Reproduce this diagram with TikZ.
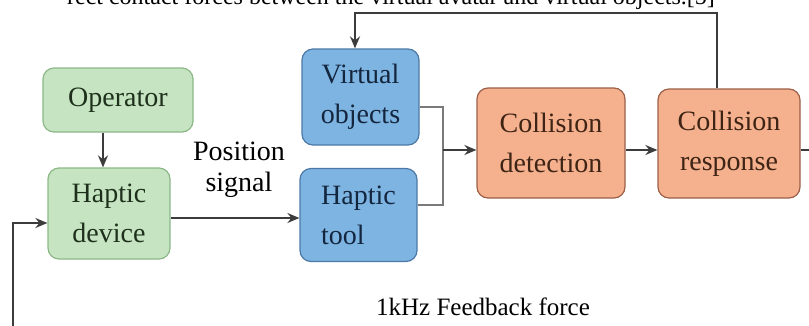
\documentclass[tikz,border=0pt]{standalone}
\usepackage{fontspec}
\setmainfont{Liberation Serif}
\usetikzlibrary{arrows.meta}
\definecolor{gfill}{HTML}{C6E4C1}
\definecolor{gline}{HTML}{8CB888}
\definecolor{gtext}{HTML}{1E301C}
\definecolor{bfill}{HTML}{7EB4E2}
\definecolor{bline}{HTML}{4C79A6}
\definecolor{btext}{HTML}{14263E}
\definecolor{ofill}{HTML}{F5B08E}
\definecolor{oline}{HTML}{9C6048}
\definecolor{otext}{HTML}{3E2414}
\definecolor{wire}{HTML}{3C3C3C}
\definecolor{wiregray}{HTML}{7A7A7A}
\tikzset{
  block/.style={rounded corners=11pt, line width=1.2pt, inner sep=0pt,
    font=\fontsize{28}{40}\selectfont, align=center},
  greenbox/.style={block, fill=gfill, draw=gline, text=gtext},
  bluebox/.style={block, fill=bfill, draw=bline, text=btext},
  orangebox/.style={block, fill=ofill, draw=oline, text=otext},
  wireline/.style={draw=wire, line width=1.8pt},
  arr/.style={wireline, -{Stealth[length=12pt,width=10pt]}},
}
\begin{document}
\begin{tikzpicture}[x=1pt,y=-1pt]
\useasboundingbox (0,0) rectangle (809,325);
\clip (0,0) rectangle (809,325);

% caption line of the surrounding page, cut at the top
\node[anchor=base east, font=\fontsize{24}{28}\selectfont, text=black, inner sep=0pt]
  (cap) at (715,4) {rect contact forces between the virtual avatar and virtual objects.[5]};

% blocks
\node[greenbox, minimum width=150pt, minimum height=64pt] (op) at (118,100) {Operator};
\node[greenbox, minimum width=122pt, minimum height=91pt] (hd) at (109,213.5) {Haptic\\device};
\node[bluebox, minimum width=117pt, minimum height=96pt] (vo) at (360.5,97) {Virtual\\objects};
\node[bluebox, minimum width=117pt, minimum height=93pt, align=left] (ht) at (358.5,215) {Haptic\\tool};
\node[orangebox, minimum width=148pt, minimum height=110pt] (cd) at (551,143) {Collision\\detection};
\node[orangebox, minimum width=142pt, minimum height=109pt] (cr) at (729,143.5) {Collision\\response};

% labels
\node[font=\fontsize{28}{31}\selectfont, align=center, inner sep=0pt] (pos) at (239,170) {Position\\signal};
\node[anchor=base, font=\fontsize{25}{30}\selectfont, inner sep=0pt] (fb) at (483,315) {1kHz Feedback force};

% routing points
\coordinate (opx) at (103,0);
\coordinate (j) at (443,150);
\coordinate (out) at (809,150);
\coordinate (topr) at (717,13);
\coordinate (topl) at (355,13);
\coordinate (left) at (13,223);
\coordinate (leftb) at (13,330);

% connectors
\draw[arr] (op.south -| opx) -- (hd.north -| opx);
\draw[arr] (hd.east |- 0,218) -- (ht.west |- 0,218);
\draw[draw=wiregray, line width=1.8pt] (vo.east |- 0,107) -| (j);
\draw[draw=wiregray, line width=1.8pt] (ht.east |- 0,205) -| (j);
\draw[arr] (j) -- (cd.west |- j);
\draw[arr] (cd.east |- j) -- (cr.west |- j);
\draw[wireline] (cr.east |- j) -- (out);
\draw[arr] (cr.north -| topr) -- (topr) -- (topl) -- (vo.north -| topl);
\draw[arr] (leftb) -- (left) -- (hd.west |- left);
\end{tikzpicture}
\end{document}
